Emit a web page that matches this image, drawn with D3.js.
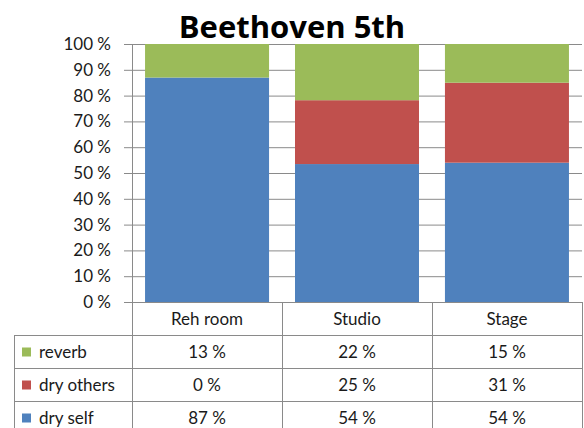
<!DOCTYPE html>
<html>
<head>
<meta charset="utf-8">
<script src="https://cdn.jsdelivr.net/npm/d3@7"></script>
<style>
  body { margin: 0; background: #fff; }
  text { font-family: Lato, "Open Sans", sans-serif; fill: #1a1a1a; }
</style>
</head>
<body>
<svg id="chart"></svg>
<script>
const categories = ["Reh room", "Studio", "Stage"];
const seriesNames = ["dry self", "dry others", "reverb"];
const drySelf = [87, 54, 54];
const dryOthers = [0, 25, 31];
const reverb = [13, 22, 15];
const yTicks = [0, 10, 20, 30, 40, 50, 60, 70, 80, 90, 100];

const width = 584;
const height = 428;
const colors = { "dry self": "#4F81BD", "dry others": "#C0504D", "reverb": "#9BBB59" };
const fs = 17;

const svg = d3.select("#chart").attr("width", width).attr("height", height);

const plotLeft = 132, plotRight = 582, plotTop = 44, plotBottom = 302;
const tableLeft = 14, rowH = 33;

const x = d3.scaleBand().domain(categories).range([plotLeft, plotRight])
  .paddingInner(0.173).paddingOuter(0.087);
const xCell = d3.scaleBand().domain(categories).range([plotLeft, plotRight]);
const y = d3.scaleLinear().domain([0, 100]).range([plotBottom, plotTop]);

// rows built from the series arrays, normalised to 100 %
const rows = categories.map((c, i) => {
  const total = drySelf[i] + dryOthers[i] + reverb[i];
  return {
    cat: c,
    "dry self": drySelf[i] * 100 / total,
    "dry others": dryOthers[i] * 100 / total,
    "reverb": reverb[i] * 100 / total
  };
});
const stacked = d3.stack().keys(seriesNames)(rows);

// gridlines
svg.append("g")
  .selectAll("line")
  .data(yTicks)
  .enter()
  .append("line")
  .attr("x1", plotLeft - 8)
  .attr("x2", plotRight)
  .attr("y1", (d) => y(d) + 0.5)
  .attr("y2", (d) => y(d) + 0.5)
  .attr("stroke", "#8a8a8a")
  .attr("stroke-width", 1);

svg.append("g")
  .selectAll("text")
  .data(yTicks)
  .enter()
  .append("text")
  .attr("x", 111)
  .attr("y", (d) => y(d) + 6)
  .attr("text-anchor", "end")
  .attr("font-size", fs)
  .text((d) => d + " %");

// bars
svg.append("g")
  .selectAll("g")
  .data(stacked)
  .enter()
  .append("g")
  .attr("fill", (s) => colors[s.key])
  .selectAll("rect")
  .data((s) => s)
  .enter()
  .append("rect")
  .attr("x", (d) => x(d.data.cat))
  .attr("width", x.bandwidth())
  .attr("y", (d) => y(d[1]))
  .attr("height", (d) => y(d[0]) - y(d[1]));

// data table
const tableRows = [
  { name: "reverb", vals: reverb },
  { name: "dry others", vals: dryOthers },
  { name: "dry self", vals: drySelf }
];
const grid = svg.append("g").attr("stroke", "#8a8a8a").attr("stroke-width", 1);
const tableBottom = plotBottom + rowH * 4;
// axis line
grid.append("line").attr("x1", plotLeft + 0.5).attr("x2", plotLeft + 0.5)
  .attr("y1", plotTop).attr("y2", tableBottom);
categories.forEach((c) => {
  const xr = xCell(c) + xCell.bandwidth() + 0.5;
  grid.append("line").attr("x1", xr).attr("x2", xr)
    .attr("y1", plotBottom).attr("y2", tableBottom);
});
grid.append("line").attr("x1", tableLeft + 0.5).attr("x2", tableLeft + 0.5)
  .attr("y1", plotBottom + rowH).attr("y2", tableBottom);
for (let r = 1; r <= 3; r++) {
  grid.append("line").attr("x1", tableLeft).attr("x2", plotRight)
    .attr("y1", plotBottom + rowH * r + 0.5).attr("y2", plotBottom + rowH * r + 0.5);
}

svg.append("g")
  .selectAll("text")
  .data(categories)
  .enter()
  .append("text")
  .attr("x", (d) => xCell(d) + xCell.bandwidth() / 2)
  .attr("y", plotBottom + rowH / 2 + 6)
  .attr("text-anchor", "middle")
  .attr("font-size", fs)
  .text((d) => d);

const rowG = svg.append("g")
  .selectAll("g")
  .data(tableRows)
  .enter()
  .append("g")
  .attr("transform", (d, i) => `translate(0,${plotBottom + rowH * (i + 1)})`);

rowG.append("rect")
  .attr("x", 22)
  .attr("y", rowH / 2 - 4)
  .attr("width", 9)
  .attr("height", 9)
  .attr("fill", (d) => colors[d.name]);

rowG.append("text")
  .attr("x", 39)
  .attr("y", rowH / 2 + 6)
  .attr("font-size", fs)
  .text((d) => d.name);

rowG.selectAll("text.val")
  .data((d) => d.vals.map((v, i) => ({ v, cat: categories[i] })))
  .enter()
  .append("text")
  .attr("class", "val")
  .attr("x", (d) => xCell(d.cat) + xCell.bandwidth() / 2)
  .attr("y", rowH / 2 + 6)
  .attr("text-anchor", "middle")
  .attr("font-size", fs)
  .text((d) => d.v + " %");

svg.append("text")
  .attr("x", 292)
  .attr("y", 38)
  .attr("text-anchor", "middle")
  .attr("font-size", 31)
  .attr("font-weight", "bold")
  .style("font-family", "'Open Sans', sans-serif")
  .style("fill", "#000")
  .text("Beethoven 5th");
</script>
</body>
</html>
